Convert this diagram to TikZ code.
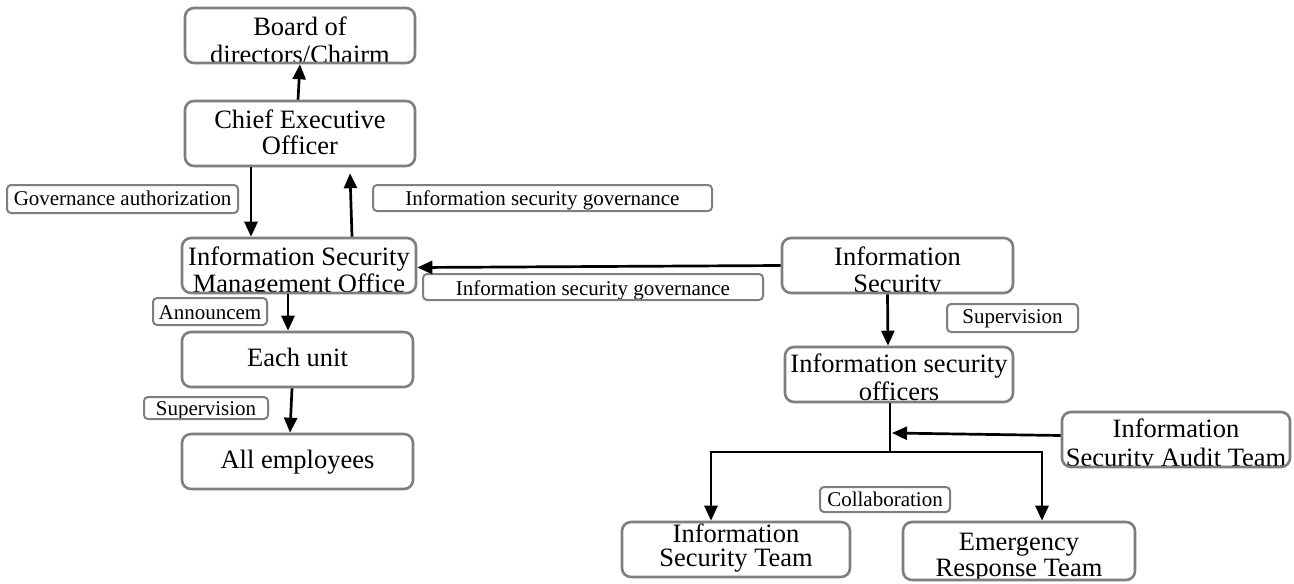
\documentclass[tikz,border=0pt]{standalone}
\usepackage{fontspec}
\setmainfont{Liberation Serif}
\usetikzlibrary{arrows.meta,calc}

\definecolor{boxgray}{HTML}{7F7F7F}

\tikzset{
  box/.style={draw=boxgray, line width=2.6pt, rounded corners=9pt, fill=white, inner sep=0pt},
  tag/.style={draw=boxgray, line width=2pt, rounded corners=4pt, fill=white, inner sep=0pt},
  txt/.style={anchor=base, inner sep=0pt, font=\fontsize{26.5}{27}\selectfont},
  lbl/.style={anchor=base, inner sep=0pt, font=\fontsize{21}{22}\selectfont},
  arr/.style={line width=2.7pt, -{Triangle[length=15pt,width=13pt]}},
  wire/.style={line width=2.7pt},
}
% text line placed relative to the centre of the enclosing shape, clipped by it
\newcommand\boxline[3][txt]{\node[#1] at ($(path picture bounding box.center)+(0,#2)$) {#3};}

\begin{document}
\begin{tikzpicture}[x=1pt,y=-1pt]
\useasboundingbox (0,0) rectangle (1294,584);
\fill[white] (0,0) rectangle (1294,584);

% left column
\node[box, minimum width=230pt, minimum height=55pt,
  path picture={\boxline{-0.5}{Board of}\boxline{28}{directors/Chairm}}]
  (board) at (300,35.5) {};
\node[box, minimum width=230pt, minimum height=65pt,
  path picture={\boxline{-5.5}{Chief Executive}\boxline{20.5}{Officer}}]
  (ceo) at (300,133.5) {};
\node[box, minimum width=234pt, minimum height=55pt,
  path picture={\boxline{-0.5}{Information Security}\boxline{27}{Management Office}}]
  (ismo) at (299,265.5) {};
\node[box, minimum width=231pt, minimum height=55pt,
  path picture={\boxline{6.5}{Each unit}}]
  (each) at (297.5,359.5) {};
\node[box, minimum width=231pt, minimum height=55pt,
  path picture={\boxline{6.5}{All employees}}]
  (all) at (297.5,461.5) {};

% right column
\node[box, minimum width=231pt, minimum height=55pt,
  path picture={\boxline{-0.5}{Information}\boxline{27}{Security}}]
  (is) at (897.5,265.5) {};
\node[box, minimum width=228pt, minimum height=55pt,
  path picture={\boxline{-2.5}{Information security}\boxline{25.5}{officers}}]
  (off) at (899,374.5) {};
\node[box, minimum width=228pt, minimum height=55pt,
  path picture={\boxline{-2.5}{Information}\boxline{27}{Security Audit Team}}]
  (audit) at (1176,439.5) {};
\node[box, minimum width=228pt, minimum height=55pt,
  path picture={\boxline{-7}{Information}\boxline{17}{Security Team}}]
  (ist) at (736,549.5) {};
\node[box, minimum width=232pt, minimum height=58pt,
  path picture={\boxline{-1}{Emergency}\boxline{25}{Response Team}}]
  (ert) at (1019,551) {};

% labels
\node[tag, minimum width=231pt, minimum height=28pt,
  path picture={\boxline[lbl]{6}{Governance authorization}}]
  (gov) at (122.5,199) {};
\node[tag, minimum width=339pt, minimum height=26pt,
  path picture={\boxline[lbl]{7}{Information security governance}}]
  (isgA) at (542.5,198) {};
\node[tag, minimum width=340pt, minimum height=26pt,
  path picture={\boxline[lbl]{8}{Information security governance}}]
  (isgB) at (593,287) {};
\node[tag, minimum width=114pt, minimum height=27pt,
  path picture={\boxline[lbl]{7.5}{Announcem}}]
  (ann) at (210,311.5) {};
\node[tag, minimum width=124pt, minimum height=22pt,
  path picture={\boxline[lbl]{7.5}{Supervision}}]
  (supA) at (206,408) {};
\node[tag, minimum width=131pt, minimum height=28pt,
  path picture={\boxline[lbl]{5}{Supervision}}]
  (supB) at (1012.5,318) {};
\node[tag, minimum width=130pt, minimum height=25pt,
  path picture={\boxline[lbl]{6.5}{Collaboration}}]
  (collab) at (885,499.5) {};

% connectors
\draw[arr] ([xshift=-2pt]ceo.north) -- (board.south);
\draw[arr] ([xshift=-49pt]ceo.south) -- ([xshift=-48pt]ismo.north);
\draw[arr] ([xshift=53pt]ismo.north) -- ($(ceo.south)+(50,6)$);
\draw[arr] (is.west) -- ([yshift=-2pt]ismo.east);
\draw[arr] ([xshift=-11pt]ismo.south) -- ([xshift=-9.5pt]each.north);
\draw[arr] ([xshift=-5.5pt]each.south) -- ([xshift=-7.5pt]all.north);
\draw[arr] ([xshift=-10pt]is.south) -- ([xshift=-11pt]off.north);

\coordinate (split) at (890,452);
\coordinate (join) at (892,433);
\draw[wire] ([xshift=-9pt]off.south) -- (split);
\draw[arr] (split) -| ([xshift=-25pt]ist.north);
\draw[arr] (split) -| ([xshift=23pt]ert.north);
\draw[arr] ([yshift=4pt]audit.west) -- (join);

\end{tikzpicture}
\end{document}
